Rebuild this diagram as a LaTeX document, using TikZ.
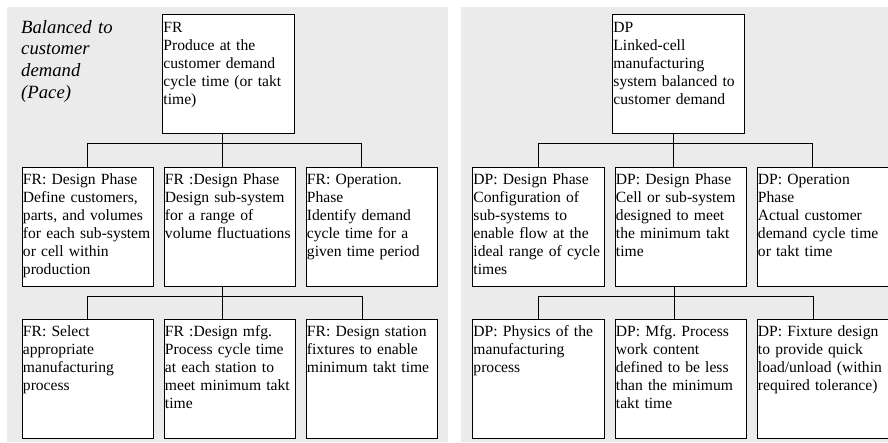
\documentclass[tikz,border=0pt]{standalone}
\usepackage{fontspec}
\setmainfont{Liberation Serif}
\usepackage{tikz}
\usetikzlibrary{positioning}
\definecolor{panelgrey}{RGB}{235,235,235}
\frenchspacing
\newcommand{\cellfont}{\fontsize{15.6pt}{18pt}\selectfont\hyphenpenalty=10000\exhyphenpenalty=10000}
\newcommand{\pacefont}{\fontsize{18.7pt}{21.7pt}\selectfont\itshape}

\begin{document}
\begin{tikzpicture}[x=1pt,y=-1pt,
	cell/.style={draw, line width=0.9pt, fill=white, anchor=north west, align=left,
		inner xsep=1pt, inner ysep=0pt, text width=129.5pt,
		text height=18pt, text depth=101pt, font=\cellfont},
	link/.style={line width=0.9pt}]

	\useasboundingbox (0,0) rectangle (888,442);
	\fill[panelgrey] (7,7) rectangle (448,442);
	\fill[panelgrey] (461,7) rectangle (888,442);

	\node (pace)[anchor=north west, align=left, text width=125pt, inner sep=0pt, text height=15pt, font=\pacefont] at (21,18) {Balanced to\\customer\\demand\\(Pace)};

	% FR side
	\node (FR)[cell] at (162,14) {FR\\Produce at the\\customer demand\\cycle time (or takt\\time)};

	\node (FRa)[cell] at (21.5,166.5) {FR: Design Phase\\Define customers,\\parts, and volumes\\for each sub-system\\or cell within\\production};
	\node (FRb)[cell] at (163.5,166.5) {FR :Design Phase\\Design sub-system\\for a range of\\volume fluctuations};
	\node (FRc)[cell] at (305.5,166.5) {FR: Operation.\\Phase\\Identify demand\\cycle time for a\\given time period};

	\node (FRd)[cell] at (21.5,318.5) {FR: Select\\appropriate\\manufacturing\\process};
	\node (FRe)[cell] at (163.5,318.5) {FR :Design mfg.\\Process cycle time\\at each station to\\meet minimum takt\\time};
	\node (FRf)[cell] at (305.5,318.5) {FR: Design station\\fixtures to enable\\minimum takt time};

	% DP side
	\node (DP)[cell] at (612,14) {DP\\Linked-cell\\manufacturing\\system balanced to\\customer demand};

	\node (DPa)[cell] at (472,166.5) {DP: Design Phase\\Configuration of\\sub-systems to\\enable flow at the\\ideal range of cycle\\times};
	\node (DPb)[cell] at (614.5,166.5) {DP: Design Phase\\Cell or sub-system\\designed to meet\\the minimum takt\\time};
	\node (DPc)[cell] at (756.5,166.5) {DP: Operation\\Phase\\Actual customer\\demand cycle time\\or takt time};

	\node (DPd)[cell] at (472,318.5) {DP: Physics of the\\manufacturing\\process};
	\node (DPe)[cell] at (614.5,318.5) {DP: Mfg. Process\\work content\\defined to be less\\than the minimum\\takt time};
	\node (DPf)[cell] at (756.5,318.5) {DP: Fixture design\\to provide quick\\load/unload (within\\required tolerance)};

	\coordinate (FRbar) at (222.5,143.5);
	\coordinate (FRbarR) at (361.75,143.5);
	\coordinate (FRsub) at (222.5,296.5);
	\coordinate (FRsubR) at (362.5,296.5);

	\coordinate (DPbar) at (673.25,143.5);
	\coordinate (DPbarR) at (812.5,143.5);
	\coordinate (DPsub) at (674,296.5);
	\coordinate (DPsubR) at (813,296.5);

	\draw[link] (FR.south -| FRbar) -- (FRbar) -- (FRbar |- FRb.north);
	\draw[link] (FRa.north) |- (FRbarR) -- (FRbarR |- FRc.north);
	\draw[link] (FRb.south -| FRsub) -- (FRsub) -- (FRsub |- FRe.north);
	\draw[link] (FRd.north) |- (FRsubR) -- (FRsubR |- FRf.north);

	\draw[link] (DP.south -| DPbar) -- (DPbar) -- (DPbar |- DPb.north);
	\draw[link] (DPa.north) |- (DPbarR) -- (DPbarR |- DPc.north);
	\draw[link] (DPb.south -| DPsub) -- (DPsub) -- (DPsub |- DPe.north);
	\draw[link] (DPd.north) |- (DPsubR) -- (DPsubR |- DPf.north);

\end{tikzpicture}
\end{document}
